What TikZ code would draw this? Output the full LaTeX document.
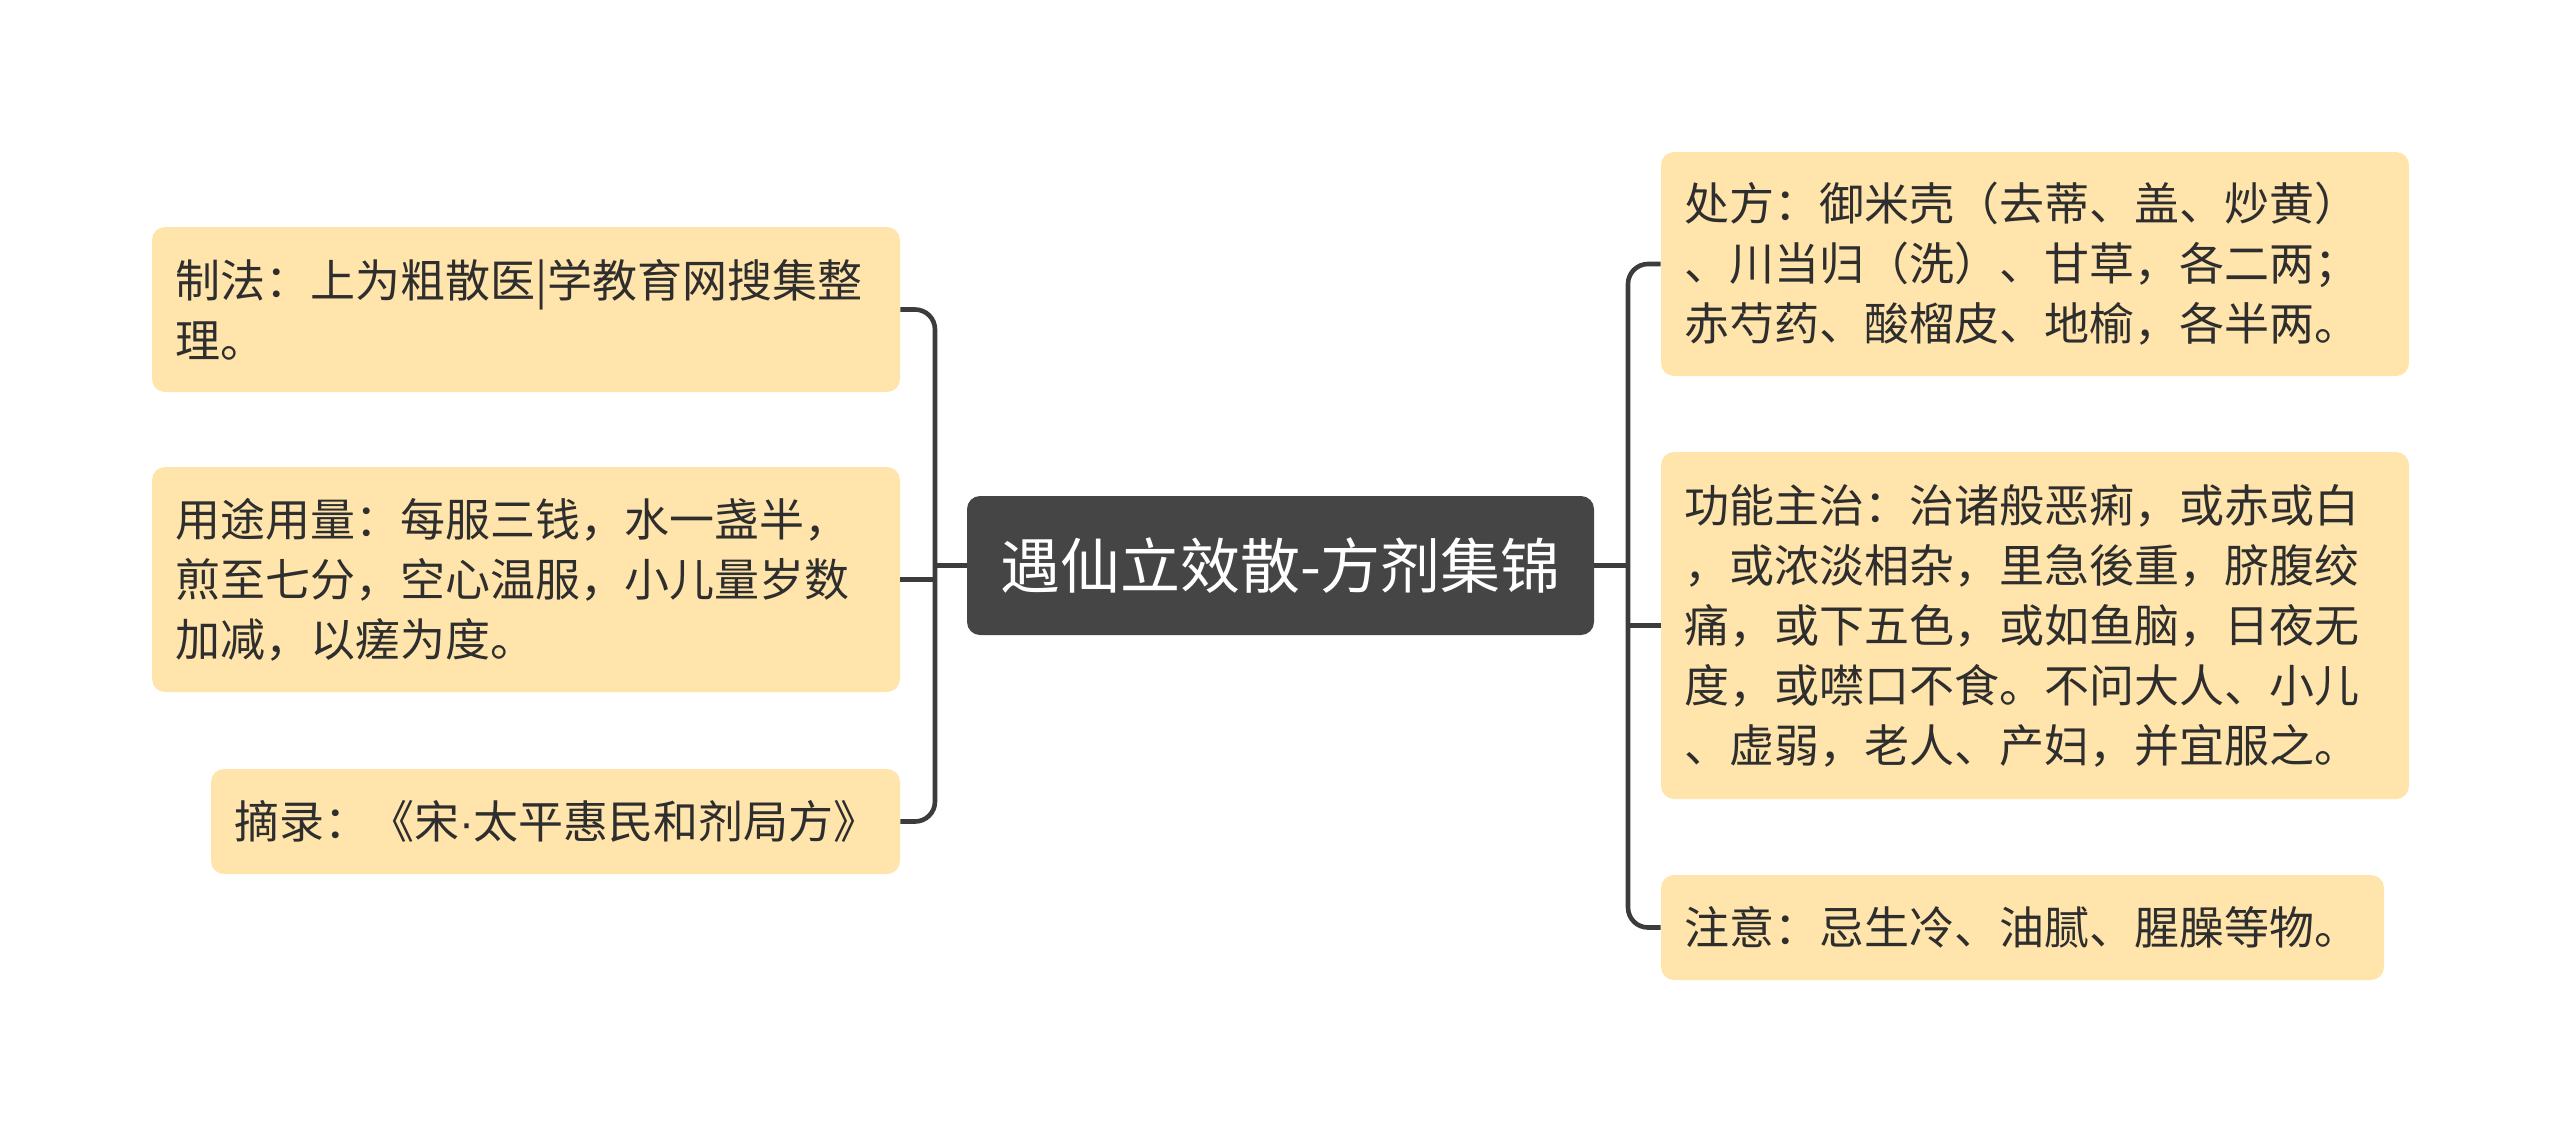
\documentclass[tikz,border=0pt]{standalone}
\usepackage{fontspec}
\setmainfont{Noto Sans CJK SC}
\newfontfamily\latinfont{Liberation Sans}
\definecolor{boxfill}{HTML}{FFE4AB}
\definecolor{rootfill}{HTML}{454545}
\definecolor{linecol}{HTML}{3C3C3C}
\definecolor{txt}{HTML}{2E2E2E}
\tikzset{
  leaf/.style={draw=none, fill=boxfill, rounded corners=6.5pt, inner xsep=11.5pt, inner ysep=0pt,
    align=left, text=txt, font=\fontsize{22.5pt}{30pt}\selectfont, anchor=center},
  rootbox/.style={draw=none, fill=rootfill, rounded corners=6.5pt, text=white,
    font=\fontsize{30pt}{36pt}\selectfont, minimum width=313.5pt, minimum height=69.5pt, inner sep=0pt},
  conn/.style={draw=linecol, line width=2.3pt, rounded corners=10pt}
}
\begin{document}
\begin{tikzpicture}[x=0.5pt,y=-0.5pt]
\useasboundingbox (0,0) rectangle (2560,1131);
\node[rootbox] (c) at (1280.5,565.5) {遇仙立效散-方剂集锦};
% left
\node[leaf, text width=351pt, minimum height=82.5pt] (l1) at (526,309.5)
  {制法：上为粗散医|学教育网搜集整\\理。};
\node[leaf, text width=351pt, minimum height=112.5pt] (l2) at (526,579.5)
  {用途用量：每服三钱，水一盏半，\\煎至七分，空心温服，小儿量岁数\\加减，以瘥为度。};
\node[leaf, text width=321.5pt, minimum height=52.5pt] (l3) at (555.5,821.5)
  {摘录：《宋{\latinfont ·}太平惠民和剂局方》};
% right
\node[leaf, text width=351pt, minimum height=112pt] (r1) at (2035,264)
  {处方：御米壳（去蒂、盖、炒黄）\\、川当归（洗）、甘草，各二两；\\赤芍药、酸榴皮、地榆，各半两。};
\node[leaf, text width=351pt, minimum height=173.5pt] (r2) at (2035,625.5)
  {功能主治：治诸般恶痢，或赤或白\\，或浓淡相杂，里急後重，脐腹绞\\痛，或下五色，或如鱼脑，日夜无\\度，或噤口不食。不问大人、小儿\\、虚弱，老人、产妇，并宜服之。};
\node[leaf, text width=338.5pt, minimum height=52.5pt] (r3) at (2022.5,927.5)
  {注意：忌生冷、油腻、腥臊等物。};
% trunks
\coordinate (lt) at (935,565.5);
\coordinate (rt) at (1628,565.5);
\draw[conn] (c.west) -- (lt);
\draw[conn] (l1.east) -- (l1.east -| lt) -- (l3.east -| lt) -- (l3.east);
\draw[conn] (l2.east) -- (l2.east -| lt);
\draw[conn] (c.east) -- (rt);
\draw[conn] (r1.west) -- (r1.west -| rt) -- (r3.west -| rt) -- (r3.west);
\draw[conn] (r2.west) -- (r2.west -| rt);
\end{tikzpicture}
\end{document}
